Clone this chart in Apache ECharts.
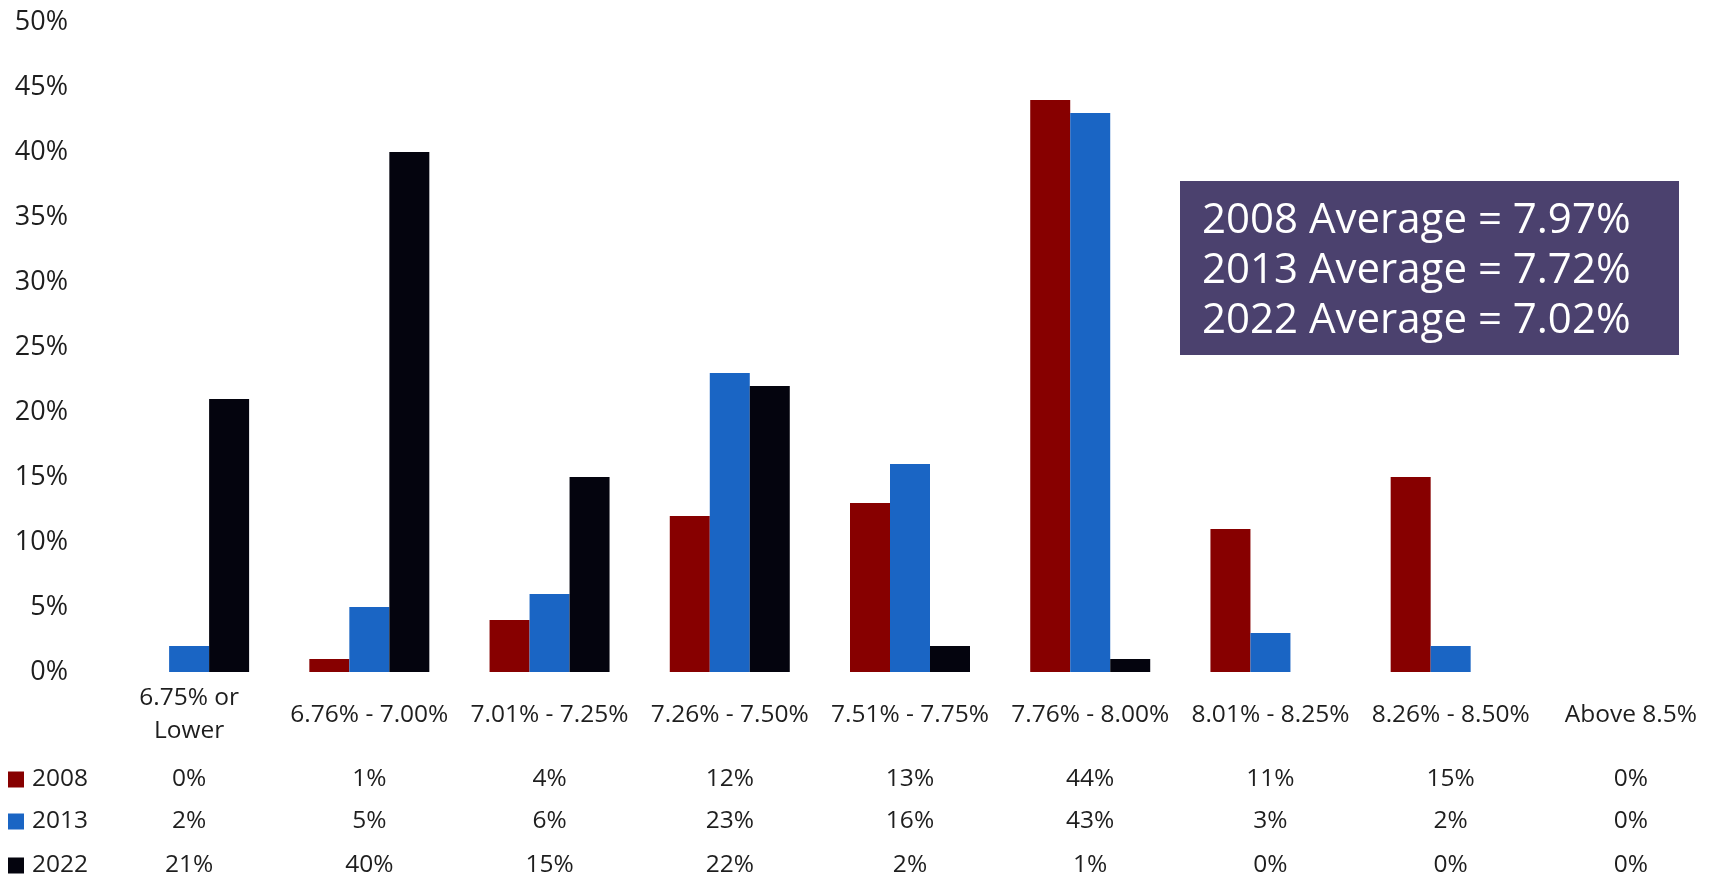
<!DOCTYPE html>
<html>
<head>
<meta charset="utf-8">
<script src="https://cdn.jsdelivr.net/npm/echarts@6/dist/echarts.min.js"></script>
<style>
html,body{margin:0;padding:0;background:#fff;}
#chart{width:1721px;height:878px;}
</style>
</head>
<body>
<div id="chart"></div>
<script>
const categories = ['6.75% or\nLower','6.76% - 7.00%','7.01% - 7.25%','7.26% - 7.50%','7.51% - 7.75%','7.76% - 8.00%','8.01% - 8.25%','8.26% - 8.50%','Above 8.5%'];
const seriesNames = ['2008','2013','2022'];
const values2008 = [0,1,4,12,13,44,11,15,0];
const values2013 = [2,5,6,23,16,43,3,2,0];
const values2022 = [21,40,15,22,2,1,0,0,0];
const averageLines = ['2008 Average = 7.97%','2013 Average = 7.72%','2022 Average = 7.02%'];
const colors = ['#870000','#1a65c4','#04040e'];

const allValues = [values2008, values2013, values2022];
const FONT = '"Open Sans", sans-serif';
const TEXT = '#1e1e1e';

const chart = echarts.init(document.getElementById('chart'), null, {renderer:'canvas'});

const tableMargins = [107, 149, 193];
const rowCenters = [779, 821, 865];
const tableAxes = allValues.map((vals, k) => ({
  type: 'category',
  gridIndex: 0,
  position: 'bottom',
  data: categories,
  axisLine: {show:false},
  axisTick: {show:false},
  splitLine: {show:false},
  axisLabel: {
    interval: 0,
    margin: tableMargins[k],
    verticalAlign: 'middle',
    fontFamily: FONT,
    fontSize: 24.5,
    color: TEXT,
    formatter: (v, i) => vals[i] + '%'
  }
}));

const legends = seriesNames.map((name, k) => ({
  orient: 'horizontal',
  left: 8,
  top: rowCenters[k] - 12,
  padding: 0,
  itemWidth: 16,
  itemHeight: 16,
  icon: 'rect',
  data: [name],
  textStyle: {fontFamily: FONT, fontSize: 24.5, color: TEXT, lineHeight: 24, padding: [0,0,0,3]}
}));

const option = {
  backgroundColor: '#ffffff',
  animation: false,
  color: colors,
  grid: {left: 99, right: -2, top: 22, bottom: 206, containLabel: false},
  legend: legends,
  xAxis: [{
    type: 'category',
    data: categories,
    axisLine: {show:false},
    axisTick: {show:false},
    axisLabel: {
      interval: 0,
      margin: 43,
      verticalAlign: 'middle',
      fontFamily: FONT,
      fontSize: 24.5,
      lineHeight: 33,
      color: TEXT
    }
  }].concat(tableAxes),
  yAxis: {
    type: 'value',
    min: 0,
    max: 50,
    interval: 5,
    axisLine: {show:false},
    axisTick: {show:false},
    splitLine: {show:false},
    axisLabel: {
      margin: 31,
      fontFamily: FONT,
      fontSize: 27,
      color: TEXT,
      formatter: '{value}%'
    }
  },
  series: seriesNames.map((name, k) => ({
    name: name,
    type: 'bar',
    xAxisIndex: 0,
    data: allValues[k],
    barWidth: 40,
    barGap: '0%',
    itemStyle: {color: colors[k]}
  })),
  graphic: [{
    type: 'group',
    left: 1180,
    top: 181,
    children: [{
      type: 'rect',
      shape: {x:0, y:0, width:499, height:174},
      style: {fill: '#4b416e'}
    }, {
      type: 'text',
      x: 22,
      y: 15,
      style: {
        text: averageLines.join('\n'),
        fill: '#ffffff',
        font: '42px "Open Sans", sans-serif',
        lineHeight: 50
      }
    }]
  }]
};
chart.setOption(option);
</script>
</body>
</html>
